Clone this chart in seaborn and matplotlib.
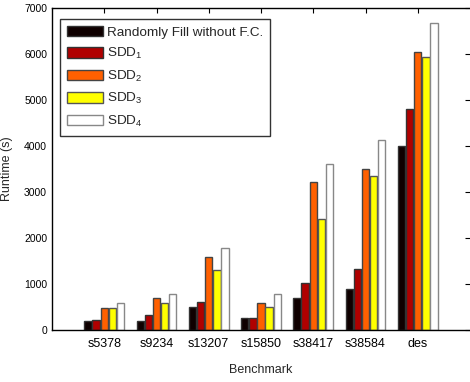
import numpy as np
import pandas as pd
import matplotlib
matplotlib.use("Agg")
import matplotlib.pyplot as plt
import seaborn as sns

sns.set_style("white")
plt.rcParams['font.family'] = ['Liberation Sans', 'DejaVu Sans']
plt.rcParams['mathtext.fontset'] = 'custom'
plt.rcParams['mathtext.rm'] = 'Liberation Sans'

benchmarks = ["s5378", "s9234", "s13207", "s15850", "s38417", "s38584", "des"]
methods = ["Randomly Fill without F.C.", "SDD$_1$", "SDD$_2$", "SDD$_3$", "SDD$_4$"]

random_fill = [190, 200, 493, 254, 689, 899, 4007]
sdd1 = [217, 323, 600, 268, 1022, 1326, 4811]
sdd2 = [478, 696, 1587, 587, 3211, 3493, 6050]
sdd3 = [470, 593, 1311, 493, 2406, 3348, 5935]
sdd4 = [587, 783, 1789, 783, 3602, 4130, 6680]

colors = ["#0f0000", "#b00000", "#ff6000", "#ffff00", "#ffffff"]
edges = ["#333333", "#333333", "#444444", "#555555", "#888888"]

rows = []
for m, vals in zip(methods, [random_fill, sdd1, sdd2, sdd3, sdd4]):
    for b, v in zip(benchmarks, vals):
        rows.append({"Benchmark": b, "Method": m, "Runtime": v})
df = pd.DataFrame(rows)

fig = plt.figure(figsize=(4.7, 3.82), dpi=100)
ax = fig.add_axes([52 / 470, 1 - 330 / 382, 418 / 470, 322 / 382])

sns.barplot(data=df, x="Benchmark", y="Runtime", hue="Method",
            palette=colors, saturation=1, width=0.78, gap=0.1, ax=ax, legend=False)

# edge colours per series
for container, ec in zip(ax.containers, edges):
    for bar in container:
        bar.set_edgecolor(ec)
        bar.set_linewidth(1.0)

ax.set_xlim(-1, 7)
ax.set_ylim(0, 7000)
ax.set_yticks(np.arange(0, 7001, 1000))
ax.set_axisbelow(True)
ax.tick_params(direction="in", length=3.5, width=0.8, top=True, right=True,
               labelsize=8, colors="black")
ax.tick_params(axis="x", labelsize=9, pad=6)
ax.tick_params(axis="y", labelsize=7.5)
for side in ["left", "bottom", "top"]:
    ax.spines[side].set_color("black")
    ax.spines[side].set_linewidth(1.0)
ax.spines["right"].set_visible(False)

ax.set_xlabel("Benchmark", fontsize=9, labelpad=10)
ax.set_ylabel("Runtime (s)", fontsize=9, labelpad=8)

handles = [matplotlib.patches.Patch(facecolor=c, edgecolor=e, linewidth=1.0)
           for c, e in zip(colors, edges)]
leg = ax.legend(handles, methods, loc="upper left", bbox_to_anchor=(0.019, 0.965),
                fontsize=9.7, frameon=True, fancybox=False, edgecolor="black",
                handlelength=2.7, handleheight=0.8, labelspacing=0.55,
                handletextpad=0.3, borderpad=0.5, borderaxespad=0)
leg.get_frame().set_linewidth(1.0)

fig.savefig("out.png", dpi=100)
